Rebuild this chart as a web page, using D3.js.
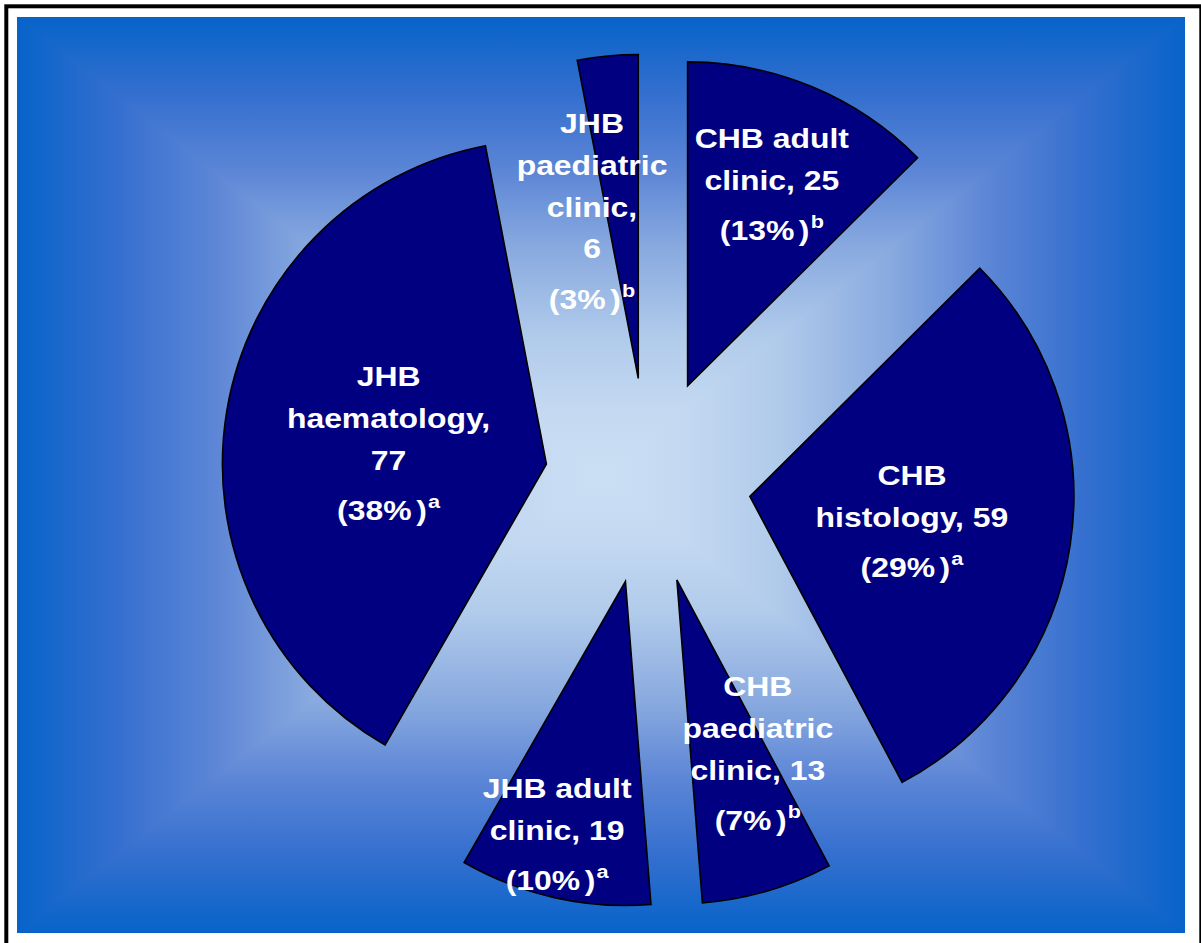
<!DOCTYPE html>
<html>
<head>
<meta charset="utf-8">
<script src="https://cdn.jsdelivr.net/npm/d3@7"></script>
<style>
  html, body { margin: 0; padding: 0; background: #fff; overflow: hidden; }
  svg { display: block; }
</style>
</head>
<body>
<svg id="chart" width="1201" height="943"></svg>
<script>
// ---- data ----
const categories = ["CHB adult clinic", "CHB histology", "CHB paediatric clinic",
                    "JHB adult clinic", "JHB haematology", "JHB paediatric clinic"];
const counts = [25, 59, 13, 19, 77, 6];
const percents = [13, 29, 7, 10, 38, 3];
const footnotes = ["b", "a", "b", "a", "a", "b"];

// ---- layout ----
const W = 1201, H = 943;
const plot = { x0: 17, y0: 17, x1: 1185, y1: 933 };
const glow = [601, 475];                 // centre of the rectangular background gradient
const pieCenter = [648, 481];
const radius = 324;
const explode = 103;                     // every slice pulled out by the same distance
const fontSize = 28, lineGap = 42, supLineGap = 50, stretchX = 1.14;
// label anchor: fraction of radius along the slice bisector, a nudge, and a wrap width
const labelLayout = [
  { t: 0.676, dx: 0,   dy: 0,  wrap: 150 },
  { t: 0.506, dx: 0,   dy: 0,  wrap: 180 },
  { t: 0.583, dx: 28,  dy: -8, wrap: 140 },
  { t: 0.807, dx: -11, dy: -3, wrap: 140 },
  { t: 0.494, dx: 0,   dy: 5,  wrap: 100 },
  { t: 0.530, dx: -30, dy: 3,  wrap: 90 }
];

const svg = d3.select("#chart");
const defs = svg.append("defs");

// ---- white page ----
svg.append("rect").attr("width", W).attr("height", H).attr("fill", "#fff");

// ---- plot area: gradient that brightens toward the middle (rectangular "from centre") ----
const stops = [
  [0, "#0763c9"], [0.17, "#346fcf"], [0.34, "#5d86d6"], [0.5, "#88a9df"],
  [0.7, "#b1cbeb"], [0.86, "#c4d9f1"], [1, "#cbdff4"]
];
function addGrad(id, x1, y1, x2, y2) {
  const g = defs.append("linearGradient").attr("id", id)
    .attr("gradientUnits", "userSpaceOnUse")
    .attr("x1", x1).attr("y1", y1).attr("x2", x2).attr("y2", y2);
  stops.forEach(s => g.append("stop").attr("offset", s[0]).attr("stop-color", s[1]));
}
const [gx, gy] = glow;
addGrad("gTop", gx, plot.y0, gx, gy);
addGrad("gBottom", gx, plot.y1, gx, gy);
addGrad("gLeft", plot.x0, gy, gx, gy);
addGrad("gRight", plot.x1, gy, gx, gy);

const bg = svg.append("g");
// left and right halves as full rectangles underneath ...
bg.append("rect").attr("x", plot.x0).attr("y", plot.y0)
  .attr("width", gx - plot.x0 + 1).attr("height", plot.y1 - plot.y0)
  .attr("fill", "url(#gLeft)");
bg.append("rect").attr("x", gx).attr("y", plot.y0)
  .attr("width", plot.x1 - gx).attr("height", plot.y1 - plot.y0)
  .attr("fill", "url(#gRight)");
// ... then the top and bottom wedges on top of them
const tl = [plot.x0, plot.y0], tr = [plot.x1, plot.y0], br = [plot.x1, plot.y1], bl = [plot.x0, plot.y1];
[
  { pts: [tl, tr, glow], id: "gTop" },
  { pts: [bl, br, glow], id: "gBottom" }
].forEach(tri => {
  bg.append("polygon")
    .attr("points", tri.pts.map(p => p.join(",")).join(" "))
    .attr("fill", `url(#${tri.id})`);
});

// ---- pie ----
const pie = d3.pie().sort(null).startAngle(0).endAngle(2 * Math.PI)(counts);
const arc = d3.arc().innerRadius(0).outerRadius(radius);
const unit = a => [Math.sin(a), -Math.cos(a)];

const slices = svg.append("g").attr("transform", `translate(${pieCenter[0]},${pieCenter[1]})`);
slices.selectAll("path.slice")
  .data(pie)
  .join("path")
  .attr("class", "slice")
  .attr("transform", d => {
    const [ux, uy] = unit((d.startAngle + d.endAngle) / 2);
    return `translate(${ux * explode},${uy * explode})`;
  })
  .attr("d", arc)
  .attr("fill", "#000080")
  .attr("stroke", "#000")
  .attr("stroke-width", 1.6)
  .attr("stroke-linejoin", "miter");

// ---- labels ----
const fontFamily = "'Liberation Sans', Arial, Helvetica, sans-serif";
const probe = svg.append("text")
  .attr("font-family", fontFamily).attr("font-weight", "bold")
  .attr("font-size", fontSize).attr("visibility", "hidden");
function measure(s) { probe.text(s); return probe.node().getComputedTextLength(); }

function wrap(tokens, maxW) {
  const lines = [];
  let cur = "";
  tokens.forEach(tok => {
    const test = cur ? cur + " " + tok : tok;
    if (cur && measure(test) > maxW) { lines.push(cur); cur = tok; }
    else cur = test;
  });
  if (cur) lines.push(cur);
  return lines;
}

const labels = svg.append("g");
pie.forEach((d, i) => {
  const lay = labelLayout[i];
  const mid = (d.startAngle + d.endAngle) / 2;
  const [ux, uy] = unit(mid);
  const dist = explode + lay.t * radius;
  const ax = pieCenter[0] + ux * dist + lay.dx;
  const ay = pieCenter[1] + uy * dist + lay.dy;

  const words = categories[i].split(" ");
  words[words.length - 1] += ",";
  const lines = wrap(words.concat(String(counts[i])), lay.wrap);
  const n = lines.length + 1;               // name/value lines plus the percentage line
  const span = lineGap * (n - 2) + supLineGap;
  const b0 = ay - (span - 20) / 2;          // first baseline, block centred on anchor

  const g = labels.append("g")
    .attr("transform", `translate(${ax},${b0}) scale(${stretchX},1)`)
    .attr("font-family", fontFamily)
    .attr("font-weight", "bold")
    .attr("font-size", fontSize)
    .attr("fill", "#fff")
    .attr("text-anchor", "middle");

  lines.forEach((ln, k) => {
    g.append("text").attr("x", 0).attr("y", k * lineGap).text(ln);
  });
  const pt = g.append("text").attr("x", 0).attr("y", lineGap * (n - 2) + supLineGap);
  pt.append("tspan").text(`(${percents[i]}%`);
  pt.append("tspan").attr("dx", 4).text(")");
  pt.append("tspan").attr("dx", 1).attr("dy", -12).attr("font-size", 19).text(footnotes[i]);
});
probe.remove();

// ---- outer frame ----
svg.append("rect")
  .attr("x", 6.3).attr("y", 6.3)
  .attr("width", 1195).attr("height", 980)
  .attr("fill", "none")
  .attr("stroke", "#000")
  .attr("stroke-width", 4);
</script>
</body>
</html>
